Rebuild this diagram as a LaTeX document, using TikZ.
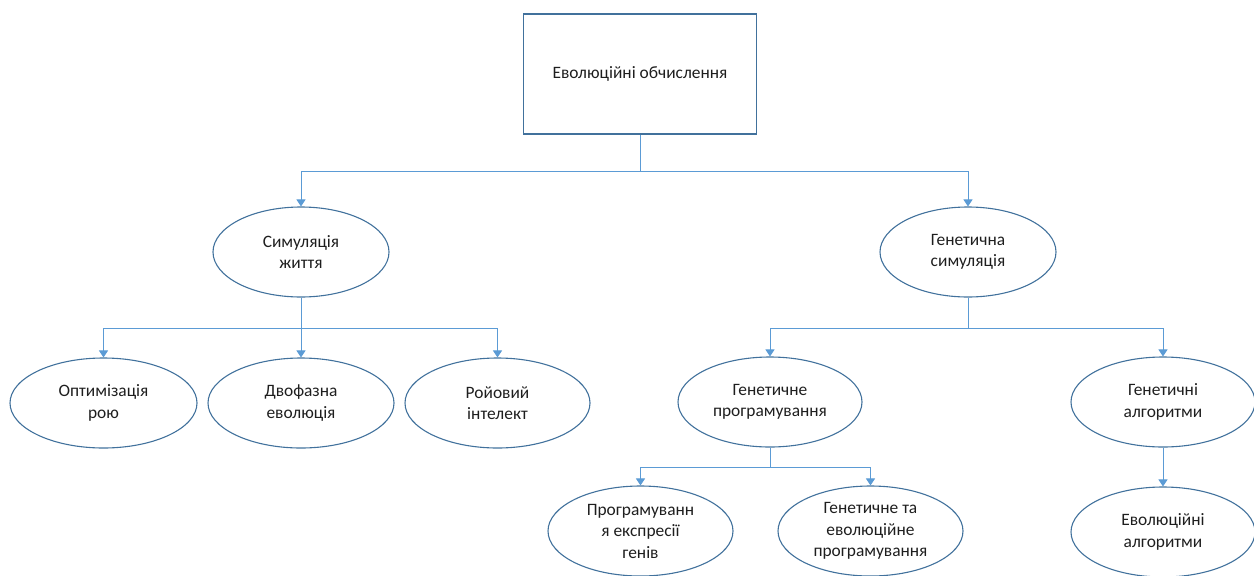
\documentclass[tikz,border=0pt]{standalone}
\usepackage{fontspec}
\setmainfont{Carlito}
\usetikzlibrary{shapes.geometric,arrows.meta}
\definecolor{shapeline}{RGB}{65,113,156}
\definecolor{linkline}{RGB}{91,155,213}
\definecolor{labeltext}{RGB}{30,30,30}
\tikzset{
  x=1pt, y=-1pt,
  every node/.style={font=\fontsize{17.4}{21.5}\selectfont, text=labeltext, align=center},
  topbox/.style={draw=shapeline, line width=1.1pt, minimum width=233pt, minimum height=120pt, inner sep=0pt},
  oval/.style={ellipse, draw=shapeline, line width=1.1pt, minimum width=#1, minimum height=90pt, inner sep=0pt},
  oval/.default=184pt,
  link/.style={draw=linkline, line width=1pt},
  arrowlink/.style={link, -{Triangle[length=7pt,width=9pt]}},
}
\begin{document}
\begin{tikzpicture}
\useasboundingbox (0,0) rectangle (1254,576);

% root
\node[topbox] (root) at (640,74) {Еволюційні обчислення};

% second level
\node[oval=176pt] (life) at (301,252) {Симуляція\\життя};
\node[oval=176pt] (gensim) at (968,252) {Генетична\\симуляція};

% children of life simulation
\node[oval=187pt] (swarm) at (103.5,403) {Оптимізація\\рою};
\node[oval=186pt] (twophase) at (301,403) {Двофазна\\еволюція};
\node[oval=185pt] (swarmint) at (497.5,403) {Ройовий\\інтелект};

% children of genetic simulation
\node[oval=184pt] (gp) at (770,402) {Генетичне\\програмування};
\node[oval=184pt] (ga) at (1163,402) {Генетичні\\алгоритми};

% third level
\node[oval=185pt] (gep) at (640.5,531) {Програмуванн\\я експресії\\генів};
\node[oval=185pt] (gaep) at (870.5,531) {Генетичне та\\еволюційне\\програмування};
\node[oval=184pt] (ea) at (1163,532) {Еволюційні\\алгоритми};

% junction points of the elbow connectors
\coordinate (j0) at (640,171);
\coordinate (j1) at (301,328);
\coordinate (j2) at (968,328);
\coordinate (j3) at (770,467);

% root -> second level
\draw[link] (root.south) -- (j0);
\draw[arrowlink] (j0) -| (life.north);
\draw[arrowlink] (j0) -| (gensim.north);

% life simulation -> children
\draw[link] (life.south) -- (j1);
\draw[arrowlink] (j1) -| (swarm.north);
\draw[arrowlink] (j1) -- (twophase.north);
\draw[arrowlink] (j1) -| (swarmint.north);

% genetic simulation -> children
\draw[link] (gensim.south) -- (j2);
\draw[arrowlink] (j2) -| (gp.north);
\draw[arrowlink] (j2) -| (ga.north);

% genetic programming -> children
\draw[link] (gp.south) -- (j3);
\draw[arrowlink] (j3) -| (gep.north);
\draw[arrowlink] (j3) -| (gaep.north);

% genetic algorithms -> evolutionary algorithms
\draw[arrowlink] (ga.south) -- (ea.north);
\end{tikzpicture}
\end{document}
